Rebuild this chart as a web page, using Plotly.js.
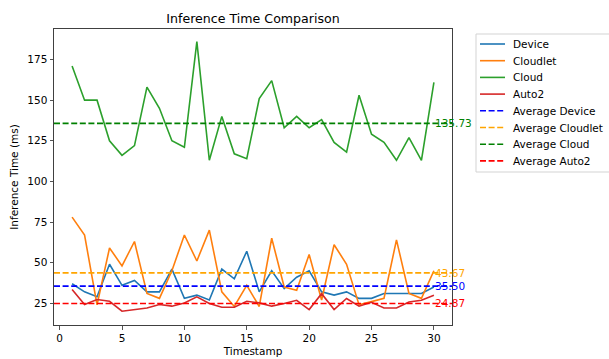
<!DOCTYPE html>
<html>
<head>
<meta charset="utf-8">
<script src="https://cdn.plot.ly/plotly-3.0.1.min.js"></script>
<style>
  html, body { margin: 0; padding: 0; background: #ffffff; }
  #chart { width: 609px; height: 359px; }
</style>
</head>
<body>
<div id="chart"></div>
<script>
// ---- data ----
const timestamps = [1,2,3,4,5,6,7,8,9,10,11,12,13,14,15,16,17,18,19,20,21,22,23,24,25,26,27,28,29,30];
const deviceTimes   = [37,32,29,49,36,39,32,32,46,28,30,27,46,40,57,32,45,34,41,45,32,30,32,28,28,31,31,31,31,35];
const cloudletTimes = [78,67,24,59,48,63,31,28,45,67,51,70,32,23,36,23,65,35,33,55,27,61,49,24,26,28,64,31,28,45];
const cloudTimes    = [171,150,150,125,116,122,158,145,125,121,186,113,140,117,114,151,162,133,140,133,138,124,118,153,129,124,113,127,113,161];
const auto2Times    = [33.4,24.2,27.3,26.2,20.1,21.1,22.1,24.2,23.2,25.2,28.9,24.8,22.5,22.5,26.2,25.2,23.2,24.8,26.8,21.1,30.9,21.1,27.9,23.2,25.6,22.1,22.1,25.8,26.8,29.9];

const seriesNames  = ["Device", "Cloudlet", "Cloud", "Auto2"];
const averageNames = ["Average Device", "Average Cloudlet", "Average Cloud", "Average Auto2"];
const averageValues = [35.50, 43.67, 135.73, 24.87];

const xTickVals = [0,5,10,15,20,25,30];
const yTickVals = [25,50,75,100,125,150,175];

// ---- styles ----
const lineColors = ["#1f77b4", "#ff7f0e", "#2ca02c", "#d62728"];
const avgColors  = ["#0000ff", "#ffa500", "#008000", "#ff0000"];
const FONT = "DejaVu Sans, Liberation Sans, sans-serif";
const dashStyle = "6px,2.6px";
const LW = 1.6;
const SPINE = "#404040";

// plot-area geometry (pixels) used to place the hand-built legend
const M = { l: 54, r: 157, t: 29, b: 34 };
const W = 609, H = 359;
const PW = W - M.l - M.r, PH = H - M.t - M.b;
const px2x = px => (px - M.l) / PW;
const py2y = py => (H - M.b - py) / PH;

const seriesData = [deviceTimes, cloudletTimes, cloudTimes, auto2Times];

const traces = seriesData.map((ys, i) => ({
  type: "scatter",
  mode: "lines",
  x: timestamps,
  y: ys,
  name: seriesNames[i],
  line: { color: lineColors[i], width: LW },
  hoverinfo: "x+y+name",
  showlegend: false
}));

const shapes = averageValues.map((v, i) => ({
  type: "line",
  xref: "paper", x0: 0, x1: 1,
  yref: "y", y0: v, y1: v,
  line: { color: avgColors[i], width: LW, dash: dashStyle },
  layer: "above"
}));

const annotations = averageValues.map((v, i) => ({
  x: timestamps[timestamps.length - 1],
  y: v,
  xref: "x", yref: "y",
  text: v.toFixed(2),
  showarrow: false,
  xanchor: "left",
  yanchor: "middle",
  xshift: -1,
  font: { family: FONT, size: 10.5, color: avgColors[i] }
}));

// ---- legend (matplotlib style) ----
const legendEntries = seriesNames.map((n, i) => ({ name: n, color: lineColors[i], dash: "solid" }))
  .concat(averageNames.map((n, i) => ({ name: n, color: avgColors[i], dash: dashStyle })));
const legTop = 34, legBottom = 172, legLeft = 476, legRight = 640;
const itemY0 = 44, itemStep = 16.7;

shapes.push({
  type: "rect", xref: "paper", yref: "paper",
  x0: px2x(legLeft), x1: px2x(legRight), y0: py2y(legBottom), y1: py2y(legTop),
  line: { color: "#d3d3d3", width: 1 }, fillcolor: "rgba(255,255,255,0.8)", layer: "above"
});
legendEntries.forEach((e, i) => {
  const yy = py2y(itemY0 + i * itemStep);
  shapes.push({
    type: "line", xref: "paper", yref: "paper",
    x0: px2x(480), x1: px2x(505), y0: yy, y1: yy,
    line: { color: e.color, width: LW, dash: e.dash }, layer: "above"
  });
  annotations.push({
    xref: "paper", yref: "paper", x: px2x(511), y: yy,
    text: e.name, showarrow: false, xanchor: "left", yanchor: "middle",
    font: { family: FONT, size: 10.5, color: "#000000" }
  });
});

const layout = {
  width: W,
  height: H,
  margin: { l: M.l, r: M.r, t: M.t, b: M.b, pad: 0, autoexpand: false },
  paper_bgcolor: "#ffffff",
  plot_bgcolor: "#ffffff",
  font: { family: FONT, size: 10.5, color: "#000000" },
  title: {
    text: "Inference Time Comparison",
    font: { family: FONT, size: 12.6, color: "#000000" },
    x: 0.4155, xanchor: "center",
    y: 1, yref: "paper", yanchor: "bottom",
    pad: { b: 6 }
  },
  xaxis: {
    range: [-0.45, 31.45],
    tickvals: xTickVals,
    ticks: "outside", ticklen: 3.5, tickwidth: 0.9, tickcolor: SPINE,
    showgrid: false, zeroline: false,
    showline: true, linecolor: SPINE, linewidth: 1, mirror: true,
    tickfont: { family: FONT, size: 10.5, color: "#000000" },
    title: { text: "Timestamp", font: { family: FONT, size: 10.5, color: "#000000" }, standoff: 4 }
  },
  yaxis: {
    range: [11.6, 193.8],
    tickvals: yTickVals,
    ticks: "outside", ticklen: 3.5, tickwidth: 0.9, tickcolor: SPINE,
    showgrid: false, zeroline: false,
    showline: true, linecolor: SPINE, linewidth: 1, mirror: true,
    tickfont: { family: FONT, size: 10.5, color: "#000000" },
    title: { text: "Inference Time (ms)", font: { family: FONT, size: 10.5, color: "#000000" }, standoff: 6 }
  },
  showlegend: false,
  shapes: shapes,
  annotations: annotations
};

Plotly.newPlot("chart", traces, layout, { displayModeBar: false, staticPlot: true });
</script>
</body>
</html>
